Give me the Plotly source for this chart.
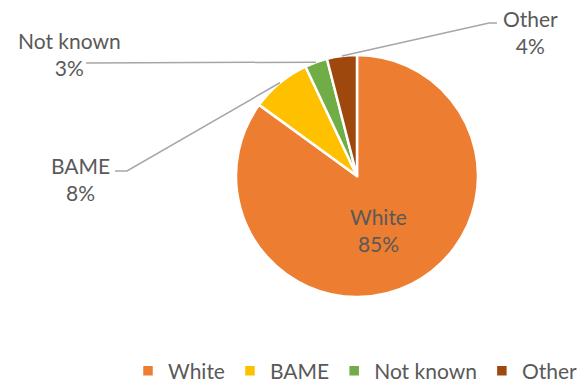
import math
import plotly.graph_objects as go

# Ethnicity breakdown
labels = ["White", "BAME", "Not known", "Other"]
values = [85, 8, 3, 4]
colors = ["#ED7D31", "#FFC000", "#70AD47", "#9E480E"]

W, H = 582, 383
CX, CY, R = 357, 176, 120  # pie centre / radius in px
FONT = "Lato, Carlito, Calibri, sans-serif"
FS = 21
TXT = "#595959"
LINE = "#A6A6A6"

total = sum(values)
pct = [f"{round(100 * v / total)}%" for v in values]


def px(x):
    return x / W


def py(y):
    return 1 - y / H


def slice_point(i, r):
    """Point at radius r on the bisector of slice i (clockwise from 12 o'clock)."""
    start = sum(values[:i]) / total * 360
    mid = math.radians(start + values[i] / total * 180)
    return CX + r * math.sin(mid), CY - r * math.cos(mid)


D = R + 1  # half-size of the pie domain
fig = go.Figure(
    go.Pie(
        labels=labels,
        values=values,
        sort=False,
        direction="clockwise",
        rotation=0,
        marker=dict(colors=colors, line=dict(color="white", width=2.5)),
        textinfo="none",
        hoverinfo="label+percent",
        domain=dict(x=[px(CX - D), px(CX + D)], y=[py(CY + D), py(CY - D)]),
    )
)

# label positions (px) and leader-line elbows for the outside labels
label_pos = {
    "White": (378, 230),
    "BAME": (80, 179),
    "Not known": (69, 54),
    "Other": (530, 32),
}
elbows = {
    "BAME": [(127, 171), (115, 171)],
    "Not known": [(86, 63)],
    "Other": [(489, 23), (497, 23)],
}

annotations = []
for i, lab in enumerate(labels):
    x, y = label_pos[lab]
    annotations.append(
        dict(
            x=px(x), y=py(y), xref="paper", yref="paper",
            text=f"{lab}<br>{pct[i]}", showarrow=False,
            font=dict(family=FONT, size=FS, color=TXT),
            xanchor="center", yanchor="middle", align="center",
        )
    )

shapes = []
for i, lab in enumerate(labels):
    if lab not in elbows:
        continue
    pts = [slice_point(i, R + 1)] + elbows[lab]
    path = "M " + " L ".join(f"{px(a)},{py(b)}" for a, b in pts)
    shapes.append(
        dict(type="path", xref="paper", yref="paper", path=path,
             line=dict(color=LINE, width=1.5))
    )

fig.update_layout(
    width=W, height=H,
    margin=dict(l=0, r=0, t=0, b=0, autoexpand=False),
    paper_bgcolor="white", plot_bgcolor="white",
    annotations=annotations,
    shapes=shapes,
    showlegend=True,
    legend=dict(
        orientation="h", x=1.0, xanchor="right", y=py(371), yanchor="middle",
        font=dict(family=FONT, size=FS, color=TXT),
        itemwidth=30, traceorder="normal",
    ),
)

fig.write_html("out.html")
